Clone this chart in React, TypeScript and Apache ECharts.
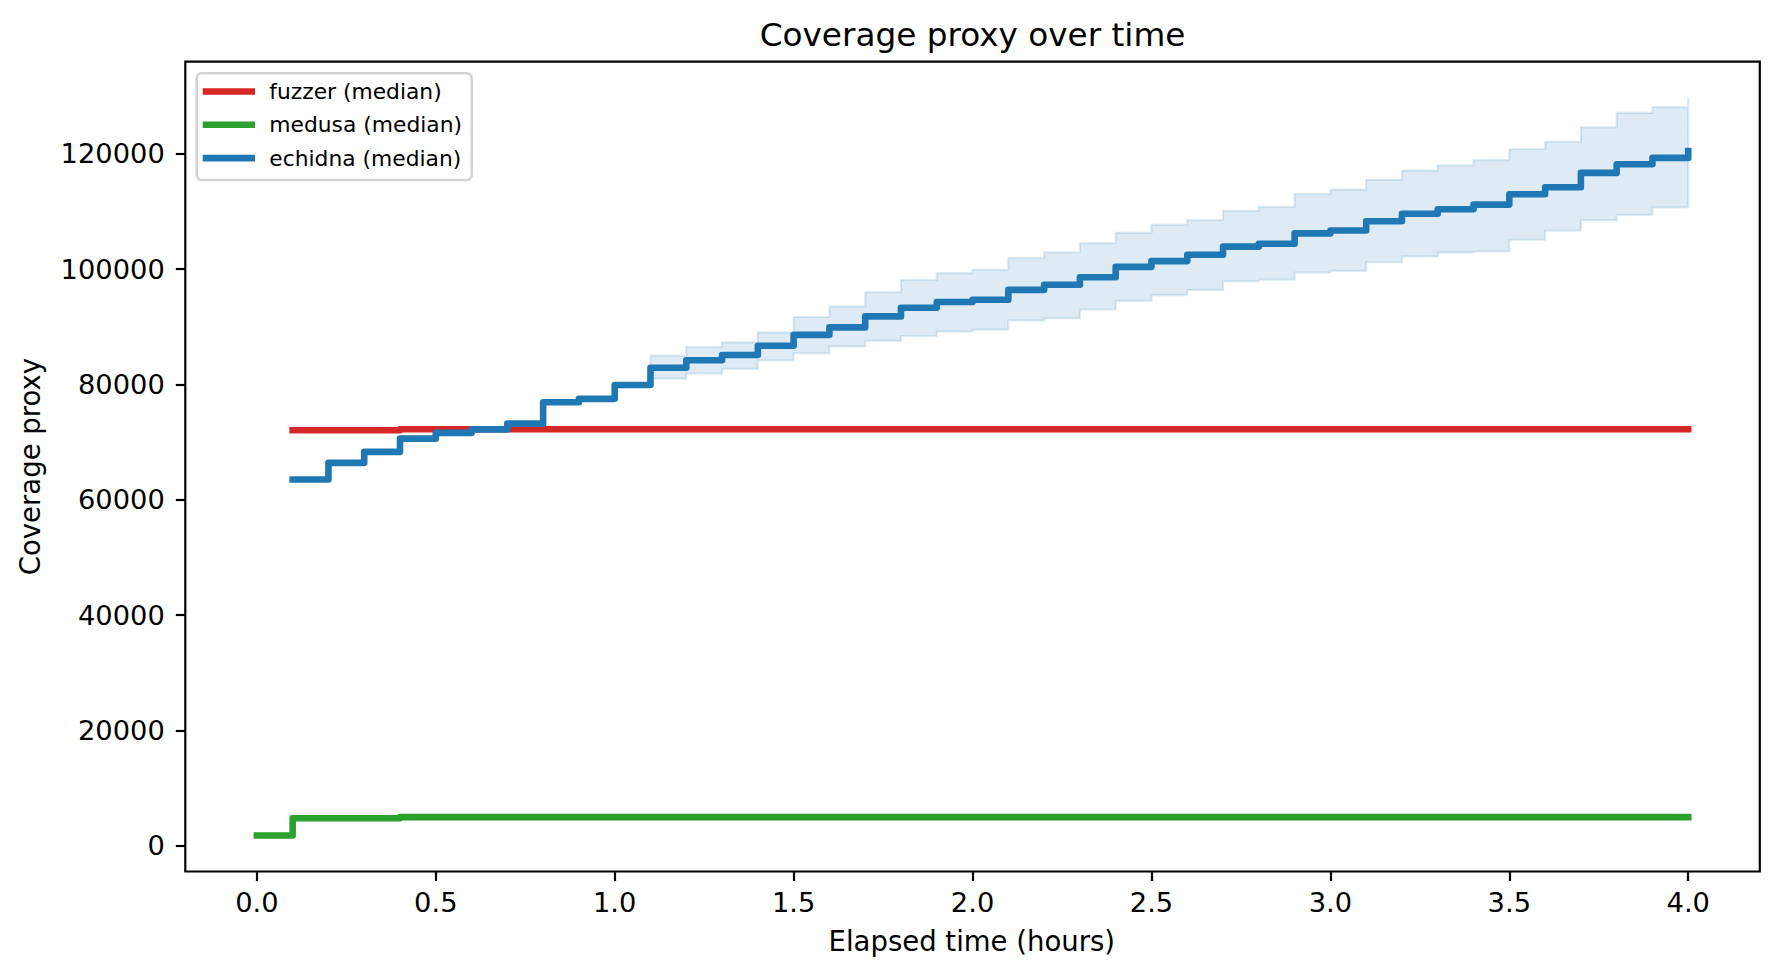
import React, { useEffect, useRef } from "react";
import * as echarts from "echarts";

// ---------------- data ----------------
const timeHours = [
  0.0, 0.1, 0.2, 0.3, 0.4, 0.5, 0.6, 0.7, 0.8, 0.9,
  1.0, 1.1, 1.2, 1.3, 1.4, 1.5, 1.6, 1.7, 1.8, 1.9,
  2.0, 2.1, 2.2, 2.3, 2.4, 2.5, 2.6, 2.7, 2.8, 2.9,
  3.0, 3.1, 3.2, 3.3, 3.4, 3.5, 3.6, 3.7, 3.8, 3.9,
  4.0,
];

const fuzzerMedian = [
  null, 72050, 72050, 72050, 72230, 72230, 72230, 72230, 72230, 72230,
  72230, 72230, 72230, 72230, 72230, 72230, 72230, 72230, 72230, 72230,
  72230, 72230, 72230, 72230, 72230, 72230, 72230, 72230, 72230, 72230,
  72230, 72230, 72230, 72230, 72230, 72230, 72230, 72230, 72230, 72230,
  72230,
];

const medusaMedian = [
  1750, 4750, 4750, 4750, 4950, 4950, 4950, 4950, 4950, 4950,
  4950, 4950, 4950, 4950, 4950, 4950, 4950, 4950, 4950, 4950,
  4950, 4950, 4950, 4950, 4950, 4950, 4950, 4950, 4950, 4950,
  4950, 4950, 4950, 4950, 4950, 4950, 4950, 4950, 4950, 4950,
  4950,
];

const echidnaMedian = [
  null, 63500, 66400, 68300, 70600, 71600, 72200, 73200, 76900, 77500,
  79900, 82900, 84200, 85100, 86700, 88600, 89900, 91800, 93300, 94300,
  94700, 96400, 97300, 98600, 100400, 101400, 102500, 103900, 104400, 106200,
  106700, 108300, 109600, 110400, 111200, 113000, 114200, 116700, 118200, 119300,
  120500,
];

const echidnaLower = [
  null, 63500, 66400, 68300, 70600, 71600, 72200, 73200, 76900, 77500,
  79900, 81000, 81900, 82700, 84200, 85400, 86600, 87600, 88400, 89200,
  89500, 91100, 91500, 93000, 94500, 95500, 96400, 97900, 98200, 99400,
  99700, 101200, 102200, 102900, 103100, 105100, 106700, 108500, 109400, 110700,
  111000,
];

const echidnaUpper = [
  null, 63500, 66400, 68300, 70600, 71600, 72200, 73200, 76900, 77500,
  79900, 85000, 86500, 87300, 89000, 91700, 93500, 96000, 98100, 99300,
  99900, 101900, 102900, 104500, 106300, 107700, 108500, 110100, 110800, 113000,
  113800, 115500, 117100, 118000, 118900, 120800, 122100, 124600, 127100, 128100,
  129600,
];

const seriesNames = ["fuzzer (median)", "medusa (median)", "echidna (median)"];
const seriesColors = ["#d62728", "#2ca02c", "#1f77b4"];

const xTicks = [0.0, 0.5, 1.0, 1.5, 2.0, 2.5, 3.0, 3.5, 4.0];
const yTicks = [0, 20000, 40000, 60000, 80000, 100000, 120000];
const xLimits = [-0.2, 4.2];
const yLimits = [-4485, 135985];

const titleText = "Coverage proxy over time";
const xLabelText = "Elapsed time (hours)";
const yLabelText = "Coverage proxy";

// ---------------- chart ----------------
const FONT = "DejaVu Sans";
const LW = 6.6;

function pairs(ys: (number | null)[]) {
  const out: [number, number][] = [];
  timeHours.forEach((t, i) => {
    const v = ys[i];
    if (v !== null && v !== undefined) out.push([t, v]);
  });
  return out;
}

export default function App() {
  const ref = useRef<HTMLDivElement>(null);

  useEffect(() => {
    if (!ref.current) return;
    const chart = echarts.init(ref.current, undefined, { renderer: "svg" });

    const lineBase = (color: string) => ({
      type: "line",
      step: "end",
      showSymbol: false,
      symbol: "none",
      silent: true,
      lineStyle: { color, width: LW, cap: "square", join: "round" },
      itemStyle: { color },
    });

    // band rows: [t, low, high]
    const bandRows: [number, number, number][] = [];
    timeHours.forEach((t, i) => {
      const lo = echidnaLower[i];
      const hi = echidnaUpper[i];
      if (lo !== null && hi !== null) bandRows.push([t, lo as number, hi as number]);
    });

    const renderBand = (params: any, api: any) => {
      if (params.dataIndex !== 0) return null;
      const n = bandRows.length;
      const pts: number[][] = [];
      // upper edge, steps-post
      pts.push(api.coord([bandRows[0][0], bandRows[0][2]]));
      for (let i = 0; i < n - 1; i++) {
        pts.push(api.coord([bandRows[i + 1][0], bandRows[i][2]]));
        pts.push(api.coord([bandRows[i + 1][0], bandRows[i + 1][2]]));
      }
      // lower edge backwards
      pts.push(api.coord([bandRows[n - 1][0], bandRows[n - 1][1]]));
      for (let i = n - 2; i >= 0; i--) {
        pts.push(api.coord([bandRows[i + 1][0], bandRows[i][1]]));
        pts.push(api.coord([bandRows[i][0], bandRows[i][1]]));
      }
      return {
        type: "polygon",
        shape: { points: pts },
        style: {
          fill: "rgba(31,119,180,0.15)",
          stroke: "rgba(31,119,180,0.15)",
          lineWidth: 2.2,
          lineJoin: "round",
        },
      };
    };

    const legendX = 196.7;
    const legendY = 73.3;
    const legendRows = [91.5, 124.8, 158.1];

    const option: any = {
      animation: false,
      backgroundColor: "#ffffff",
      grid: {
        left: 185.3,
        right: 19.2,
        top: 61.7,
        bottom: 106.5,
        show: true,
        borderColor: "#000000",
        borderWidth: 2.2,
        backgroundColor: "transparent",
      },
      xAxis: {
        type: "value",
        min: xLimits[0],
        max: xLimits[1],
        axisLine: { show: false, onZero: false },
        splitLine: { show: false },
        axisTick: {
          show: true,
          inside: false,
          length: 9.5,
          lineStyle: { color: "#000", width: 2.2 },
          customValues: xTicks,
        },
        axisLabel: {
          customValues: xTicks,
          formatter: (v: number) => v.toFixed(1),
          fontSize: 27.3,
          fontFamily: FONT,
          color: "#000",
          margin: 31,
          verticalAlign: "middle",
        },
      },
      yAxis: {
        type: "value",
        min: yLimits[0],
        max: yLimits[1],
        axisLine: { show: false, onZero: false },
        splitLine: { show: false },
        axisTick: {
          show: true,
          inside: false,
          length: 9.5,
          lineStyle: { color: "#000", width: 2.2 },
          customValues: yTicks,
        },
        axisLabel: {
          customValues: yTicks,
          formatter: (v: number) => String(v),
          fontSize: 27.3,
          fontFamily: FONT,
          color: "#000",
          margin: 20.5,
        },
      },
      series: [
        { ...lineBase(seriesColors[0]), name: seriesNames[0], data: pairs(fuzzerMedian), z: 2 },
        { ...lineBase(seriesColors[1]), name: seriesNames[1], data: pairs(medusaMedian), z: 2 },
        {
          type: "custom",
          name: "echidna band",
          silent: true,
          renderItem: renderBand,
          encode: { x: 0, y: [1, 2] },
          data: bandRows,
          z: 3,
        },
        { ...lineBase(seriesColors[2]), name: seriesNames[2], data: pairs(echidnaMedian), z: 4 },
      ],
      graphic: [
        {
          type: "text",
          x: 972.5,
          y: 35,
          style: {
            text: titleText,
            fontSize: 32.7,
            fontFamily: FONT,
            fill: "#000",
            align: "center",
            verticalAlign: "middle",
          },
        },
        {
          type: "text",
          x: 971.8,
          y: 941.3,
          style: {
            text: xLabelText,
            fontSize: 27.5,
            fontFamily: FONT,
            fill: "#000",
            align: "center",
            verticalAlign: "middle",
          },
        },
        {
          type: "text",
          x: 30,
          y: 466.6,
          rotation: Math.PI / 2,
          style: {
            text: yLabelText,
            fontSize: 27.5,
            fontFamily: FONT,
            fill: "#000",
            align: "center",
            verticalAlign: "middle",
          },
        },
        {
          type: "rect",
          z: 100,
          shape: { x: legendX, y: legendY, width: 275, height: 106.7, r: 5 },
          style: { fill: "rgba(255,255,255,0.8)", stroke: "#d3d3d3", lineWidth: 2.6 },
        },
        ...seriesNames.flatMap((name, i) => [
          {
            type: "line",
            z: 101,
            shape: { x1: 202.7, y1: legendRows[i], x2: 255, y2: legendRows[i] },
            style: { stroke: seriesColors[i], lineWidth: LW },
          },
          {
            type: "text",
            z: 101,
            x: 269.3,
            y: legendRows[i],
            style: {
              text: name,
              fontSize: 21.8,
              fontFamily: FONT,
              fill: "#000",
              align: "left",
              verticalAlign: "middle",
            },
          },
        ]),
      ],
    };

    chart.setOption(option);
    return () => {
      chart.dispose();
    };
  }, []);

  return (
    <div
      ref={ref}
      style={{ position: "absolute", left: 0, top: 0, width: 1779, height: 978 }}
    />
  );
}
